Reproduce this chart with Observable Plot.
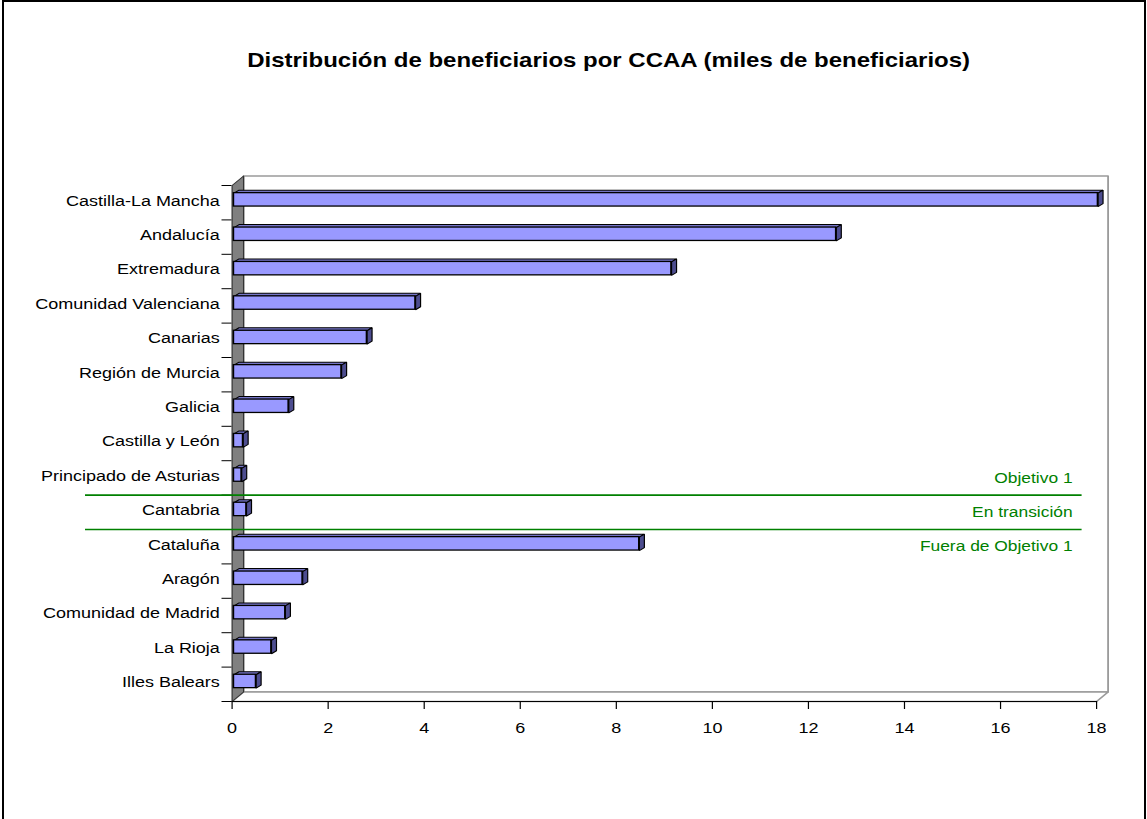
<!DOCTYPE html>
<html><head><meta charset="utf-8">
<script src="https://cdn.jsdelivr.net/npm/d3@7"></script>
<script src="https://cdn.jsdelivr.net/npm/@observablehq/plot@0.6"></script>
<style>
html,body{margin:0;padding:0;background:#fff;overflow:hidden;width:1147px;height:819px;}
#frame{position:absolute;left:2px;top:0px;width:1144px;height:900px;border:2px solid #000;box-sizing:border-box;}
#chart{position:absolute;left:0;top:0;}
</style></head><body>
<div id="frame"></div>
<div id="chart"></div>
<script>
// ---- data ----
const regions = ["Castilla-La Mancha","Andalucía","Extremadura","Comunidad Valenciana","Canarias","Región de Murcia","Galicia","Castilla y León","Principado de Asturias","Cantabria","Cataluña","Aragón","Comunidad de Madrid","La Rioja","Illes Balears"];
const values = [18.03, 12.58, 9.15, 3.82, 2.81, 2.28, 1.18, 0.23, 0.20, 0.30, 8.48, 1.47, 1.11, 0.82, 0.50];
const groupLabels = ["Objetivo 1", "En transición", "Fuera de Objetivo 1"];
const groupLabelRows = [8, 9, 10];
const groupBoundaries = [8.5, 9.5];
const xTicks = [0, 2, 4, 6, 8, 10, 12, 14, 16, 18];
const title = "Distribución de beneficiarios por CCAA (miles de beneficiarios)";

// ---- layout ----
const W = 1147, H = 819, S = 1.2, w = W / S;
const xMax = 18;
const mL = 231.5 / S, mR = w - 1096 / S;
const barStart = 0.04, barH = 0.39, barShift = -0.083;
const bdx = 0.104, bdy = -0.087;   // bar depth (data units)
const wdx = 0.239, wdy = -0.276;   // wall depth (data units)
const yLo = -0.5, yHi = regions.length - 0.5;

const idx = regions.map((_, i) => i);
const bars = idx.map(i => ({r: regions[i], i, v: values[i], y1: i + barShift - barH / 2, y2: i + barShift + barH / 2}));
const topFaces = bars.flatMap(b => [
  [barStart, b.y1], [b.v, b.y1], [b.v + bdx, b.y1 + bdy], [barStart + bdx, b.y1 + bdy], [barStart, b.y1]
].map(([x, y]) => ({x, y, id: b.i})));
const sideFaces = bars.flatMap(b => [
  [b.v, b.y1], [b.v, b.y2], [b.v + bdx, b.y2 + bdy], [b.v + bdx, b.y1 + bdy], [b.v, b.y1]
].map(([x, y]) => ({x, y, id: b.i})));
const poly = pts => pts.map(([x, y]) => ({x, y}));
const backWall = poly([[wdx, yLo + wdy], [xMax + wdx, yLo + wdy], [xMax + wdx, yHi + wdy], [wdx, yHi + wdy], [wdx, yLo + wdy]]);
const leftWall = poly([[0, yLo], [wdx, yLo + wdy], [wdx, yHi + wdy], [0, yHi], [0, yLo]]);
const floor = poly([[0, yHi], [xMax, yHi], [xMax + wdx, yHi + wdy], [wdx, yHi + wdy], [0, yHi]]);
const boundaries = d3.range(yLo, yHi + 0.01, 1);
const groups = groupLabels.map((t, k) => ({t, y: groupLabelRows[k]}));

const frameCenter = (mL + (w - mR)) / 2;

const chart = Plot.plot({
  width: w, height: H,
  marginLeft: mL, marginRight: mR, marginTop: 185, marginBottom: H - 701,
  x: {domain: [0, xMax]},
  y: {domain: [yLo, yHi], reverse: true},
  style: {fontFamily: "'Liberation Sans', Arial, sans-serif", fontSize: "15px", color: "#000", background: "transparent", overflow: "visible"},
  marks: [
    Plot.line(backWall, {x: "x", y: "y", fill: "#fff", stroke: "#9a9a9a", strokeWidth: 1.5}),
    Plot.line(floor, {x: "x", y: "y", fill: "#fff", stroke: "#9a9a9a", strokeWidth: 1.5}),
    Plot.line(leftWall, {x: "x", y: "y", fill: "#808080", stroke: "#333", strokeWidth: 1}),
    Plot.ruleY([yHi], {stroke: "#000", strokeWidth: 1.2}),
    Plot.axisX(xTicks, {tickSize: 8, tickPadding: 13, fontSize: 15, stroke: "#000"}),
    Plot.axisY(boundaries, {tickSize: 10 / S, tickFormat: () => "", stroke: "#000"}),
    Plot.axisY(idx, {tickSize: 0, tickPadding: 10.2, dy: -2, fontSize: 15, tickFormat: i => regions[i]}),
    Plot.line(topFaces, {x: "x", y: "y", z: "id", fill: "#7575c8", stroke: "#000", strokeWidth: 1, strokeLinejoin: "miter"}),
    Plot.line(sideFaces, {x: "x", y: "y", z: "id", fill: "#4d4d8f", stroke: "#000", strokeWidth: 1, strokeLinejoin: "miter"}),
    Plot.rect(bars, {x1: barStart, x2: "v", y1: "y1", y2: "y2", fill: "#9999ff", stroke: "#000", strokeWidth: 1.3}),
    Plot.ruleY(groupBoundaries, {x1: -3.05, x2: 17.7, stroke: "#008000", strokeWidth: 1.7}),
    Plot.text(groups, {x: 17.5, y: "y", text: "t", textAnchor: "end", fill: "#008000", fontSize: 14.5}),
    Plot.text([title], {text: d => d, frameAnchor: "top", lineAnchor: "middle", dx: 608 / S - frameCenter, dy: 60 - 185, fontSize: 20, fontWeight: "bold", fill: "#000"})
  ]
});
chart.setAttribute("width", W);
chart.setAttribute("height", H);
chart.setAttribute("preserveAspectRatio", "none");
chart.style.maxWidth = "none";
chart.style.width = W + "px";
chart.style.height = H + "px";
document.getElementById("chart").appendChild(chart);
</script>
</body></html>
